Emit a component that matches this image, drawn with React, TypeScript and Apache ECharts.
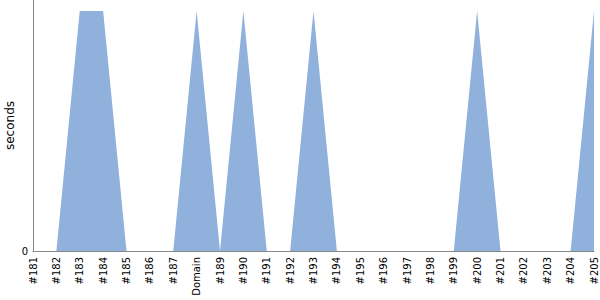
import React, { useEffect, useRef } from "react";
import * as echarts from "echarts";

const categories = [
  "#181", "#182", "#183", "#184", "#185", "#186", "#187", "Domain", "#189", "#190",
  "#191", "#192", "#193", "#194", "#195", "#196", "#197", "#198", "#199", "#200",
  "#201", "#202", "#203", "#204", "#205",
];
const seconds = [0, 0, 1, 1, 0, 0, 0, 1, 0, 1, 0, 0, 1, 0, 0, 0, 0, 0, 0, 1, 0, 0, 0, 0, 1];
const yTickLabels = ["0"];

const FONT = "'DejaVu Sans', sans-serif";

export default function App() {
  const ref = useRef<HTMLDivElement>(null);
  useEffect(() => {
    const chart = echarts.init(ref.current!, null, { renderer: "svg" });
    chart.setOption({
      animation: false,
      grid: { left: 33, right: 6, top: 0, bottom: 49, containLabel: false, outerBoundsMode: "none" },
      xAxis: {
        type: "category",
        data: categories,
        boundaryGap: false,
        axisLine: { lineStyle: { color: "#888", width: 1 } },
        axisTick: { show: false },
        axisLabel: {
          rotate: 90,
          interval: 0,
          color: "#000",
          fontFamily: FONT,
          fontSize: 10,
          margin: 6,
        },
      },
      yAxis: {
        type: "value",
        min: 0,
        max: 1.046,
        name: "seconds",
        nameLocation: "middle",
        nameGap: 17,
        nameMoveOverlap: false,
        nameTextStyle: { color: "#000", fontFamily: FONT, fontSize: 12 },
        axisLine: { show: true, lineStyle: { color: "#888", width: 1 } },
        axisTick: { show: false },
        splitLine: { show: false },
        axisLabel: {
          color: "#000",
          fontFamily: FONT,
          fontSize: 10,
          margin: 5,
          formatter: (v: number) => (v === 0 ? yTickLabels[0] : ""),
        },
      },
      series: [
        {
          type: "line",
          data: seconds,
          symbol: "none",
          lineStyle: { width: 0 },
          areaStyle: { color: "#8fb1dc", opacity: 1 },
          itemStyle: { color: "#8fb1dc" },
        },
      ],
    });
    return () => chart.dispose();
  }, []);
  return <div ref={ref} style={{ width: 600, height: 300, position: "absolute", left: 0, top: 0 }} />;
}
